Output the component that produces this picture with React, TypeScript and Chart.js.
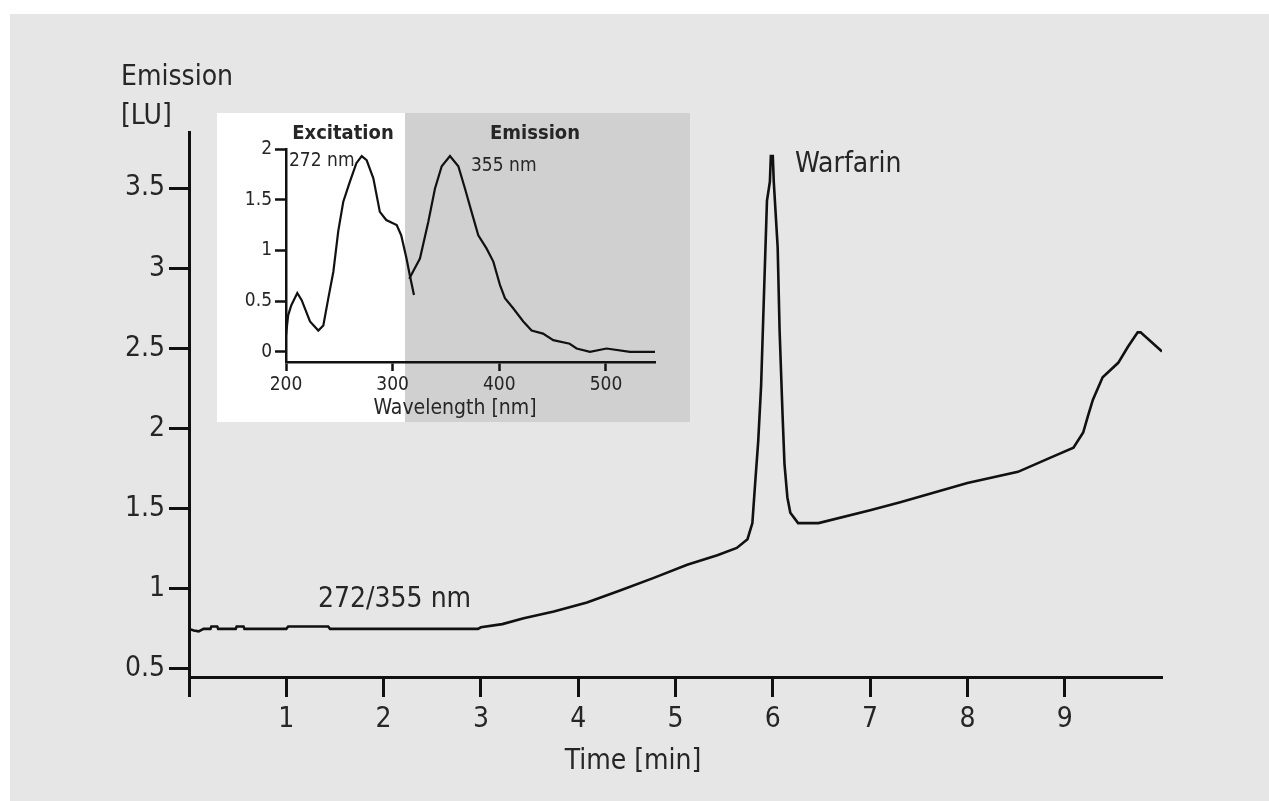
import React, { useEffect, useRef } from "react";
import { Chart, registerables } from "chart.js";

Chart.register(...registerables);

// ---------- main chromatogram data ----------
const timeMin = [
  0.0, 0.05, 0.1, 0.15, 0.22, 0.23, 0.29, 0.3, 0.48, 0.49, 0.56, 0.57, 1.0, 1.02, 1.43, 1.45,
  2.97, 3.0, 3.22, 3.44, 3.75, 4.09, 4.43, 4.77, 5.12, 5.43, 5.63, 5.74, 5.79, 5.82, 5.85, 5.88,
  5.91, 5.94, 5.97, 5.98, 6.0, 6.01, 6.05, 6.07, 6.1, 6.12, 6.15, 6.18, 6.26, 6.47, 7.0, 7.31,
  8.0, 8.52, 8.86, 9.09, 9.19, 9.24, 9.29, 9.39, 9.55, 9.65, 9.75, 9.78, 10.0,
];
const emissionLU = [
  0.75, 0.74, 0.735, 0.75, 0.75, 0.765, 0.765, 0.75, 0.75, 0.765, 0.765, 0.75, 0.75, 0.765, 0.765, 0.75,
  0.75, 0.76, 0.78, 0.817, 0.858, 0.915, 0.99, 1.067, 1.15, 1.21, 1.255, 1.31, 1.41, 1.67, 1.92, 2.27,
  2.85, 3.42, 3.54, 3.7, 3.7, 3.54, 3.13, 2.61, 2.09, 1.78, 1.57, 1.475, 1.41, 1.41, 1.49, 1.54,
  1.66, 1.73, 1.82, 1.88, 1.975, 2.08, 2.18, 2.32, 2.41, 2.51, 2.6, 2.6, 2.48,
];
const xTickValues = [0, 1, 2, 3, 4, 5, 6, 7, 8, 9];
const xTickLabels = ["", "1", "2", "3", "4", "5", "6", "7", "8", "9"];
const yTickValues = [0.5, 1, 1.5, 2, 2.5, 3, 3.5];
const yTickLabels = ["0.5", "1", "1.5", "2", "2.5", "3", "3.5"];

// ---------- inset spectra data ----------
const excWavelength = [
  200, 202, 205, 210.6, 214.7, 222.5, 230.3, 235, 239.7, 244.4, 249, 253.7, 260, 266, 271, 275.6,
  281.9, 288, 294, 303.8, 308, 313, 316, 320,
];
const excIntensity = [
  0.165, 0.36, 0.46, 0.58, 0.51, 0.3, 0.21, 0.26, 0.53, 0.79, 1.19, 1.48, 1.68, 1.86, 1.93, 1.89,
  1.71, 1.38, 1.3, 1.25, 1.15, 0.92, 0.76, 0.56,
];
const emWavelength = [
  315.6, 320, 325.6, 333.4, 339.7, 346, 353.75, 361.6, 367.8, 374, 380.3, 388, 394.4, 400.6, 405.3,
  413, 422.5, 430.3, 441, 450.6, 466, 472.5, 485, 500.6, 522.5, 546,
];
const emIntensity = [
  0.72, 0.81, 0.92, 1.28, 1.61, 1.83, 1.93, 1.83, 1.61, 1.38, 1.15, 1.02, 0.89, 0.66, 0.53,
  0.43, 0.3, 0.21, 0.18, 0.115, 0.08, 0.033, 0, 0.033, 0, 0,
];
const insetXTicks = [200, 300, 400, 500];
const insetXLabels = ["200", "300", "400", "500"];
const insetYTicks = [0, 0.5, 1, 1.5, 2];
const insetYLabels = ["0", "0.5", "1", "1.5", "2"];
const splitNm = 312;

const FONT = "'Liberation Sans Narrow', 'DejaVu Sans Condensed', 'Arial Narrow', sans-serif";
const INK = "#111";
const TEXT = "#262626";

function Label(props: {
  x: number;
  y: number;
  text: string;
  size: number;
  center?: boolean;
  bold?: boolean;
}) {
  const { x, y, text, size, center, bold } = props;
  return (
    <div
      style={{
        position: "absolute",
        left: x,
        top: y,
        transform: `translate(${center ? "-50%" : "0"}, -50%)`,
        fontFamily: FONT,
        fontSize: size,
        fontWeight: bold ? "bold" : "normal",
        lineHeight: 1,
        whiteSpace: "nowrap",
        color: TEXT,
      }}
    >
      {text}
    </div>
  );
}

export default function App() {
  const mainRef = useRef<HTMLCanvasElement>(null);
  const insetRef = useRef<HTMLCanvasElement>(null);

  useEffect(() => {
    const mainChart = new Chart(mainRef.current as HTMLCanvasElement, {
      type: "line",
      data: {
        datasets: [
          {
            data: timeMin.map((t, i) => ({ x: t, y: emissionLU[i] })),
            borderColor: INK,
            borderWidth: 2.6,
            pointRadius: 0,
            tension: 0,
            fill: false,
          },
        ],
      },
      options: {
        responsive: false,
        animation: false,
        devicePixelRatio: 1,
        layout: { padding: { top: 132, right: 107, bottom: 24, left: 0 } },
        plugins: { legend: { display: false }, tooltip: { enabled: false } },
        scales: {
          x: {
            type: "linear",
            min: 0,
            max: 10,
            afterFit: (s: any) => {
              s.height = 100;
            },
            afterBuildTicks: (s: any) => {
              s.ticks = xTickValues.map((v) => ({ value: v }));
            },
            ticks: {
              autoSkip: false,
              maxRotation: 0,
              padding: 6,
              color: TEXT,
              font: { family: FONT, size: 28 },
              callback: (v: any) => xTickLabels[xTickValues.indexOf(Number(v))] ?? "",
            },
            grid: {
              drawOnChartArea: false,
              drawTicks: true,
              tickLength: 20,
              tickWidth: 3,
              tickColor: INK,
            },
            border: { display: true, width: 3, color: INK },
          },
          y: {
            type: "linear",
            min: 0.45,
            max: 3.85,
            afterFit: (s: any) => {
              s.width = 189;
            },
            afterBuildTicks: (s: any) => {
              s.ticks = yTickValues.map((v) => ({ value: v }));
            },
            ticks: {
              autoSkip: false,
              padding: 4,
              color: TEXT,
              font: { family: FONT, size: 28 },
              callback: (v: any) => yTickLabels[yTickValues.indexOf(Number(v))] ?? "",
            },
            grid: {
              drawOnChartArea: false,
              drawTicks: true,
              tickLength: 20,
              tickWidth: 3,
              tickColor: INK,
            },
            border: { display: true, width: 3, color: INK },
          },
        },
      },
    });

    const insetBg = {
      id: "insetBg",
      beforeDraw: (chart: any) => {
        const { ctx, width, height } = chart;
        const xs = chart.scales.x;
        const split = Math.round(xs.getPixelForValue(splitNm));
        ctx.save();
        ctx.fillStyle = "#ffffff";
        ctx.fillRect(0, 0, split, height);
        ctx.fillStyle = "#d0d0d0";
        ctx.fillRect(split, 0, width - split, height);
        ctx.restore();
      },
    };

    const insetChart = new Chart(insetRef.current as HTMLCanvasElement, {
      type: "line",
      data: {
        datasets: [
          {
            data: excWavelength.map((w, i) => ({ x: w, y: excIntensity[i] })),
            borderColor: INK,
            borderWidth: 2.2,
            pointRadius: 0,
            tension: 0,
            fill: false,
          },
          {
            data: emWavelength.map((w, i) => ({ x: w, y: emIntensity[i] })),
            borderColor: INK,
            borderWidth: 2.2,
            pointRadius: 0,
            tension: 0,
            fill: false,
          },
        ],
      },
      options: {
        responsive: false,
        animation: false,
        devicePixelRatio: 1,
        layout: { padding: { top: 36, right: 35, bottom: 25, left: 0 } },
        plugins: { legend: { display: false }, tooltip: { enabled: false } },
        scales: {
          x: {
            type: "linear",
            min: 200,
            max: 546,
            afterFit: (s: any) => {
              s.height = 35;
            },
            afterBuildTicks: (s: any) => {
              s.ticks = insetXTicks.map((v) => ({ value: v }));
            },
            ticks: {
              autoSkip: false,
              maxRotation: 0,
              padding: 3,
              color: TEXT,
              font: { family: FONT, size: 19 },
              callback: (v: any) => insetXLabels[insetXTicks.indexOf(Number(v))] ?? "",
            },
            grid: {
              drawOnChartArea: false,
              drawTicks: true,
              tickLength: 9,
              tickWidth: 2.5,
              tickColor: INK,
            },
            border: { display: true, width: 2.5, color: INK },
          },
          y: {
            type: "linear",
            min: -0.1,
            max: 2,
            afterFit: (s: any) => {
              s.width = 69;
            },
            afterBuildTicks: (s: any) => {
              s.ticks = insetYTicks.map((v) => ({ value: v }));
            },
            ticks: {
              autoSkip: false,
              padding: 3,
              color: TEXT,
              font: { family: FONT, size: 19 },
              callback: (v: any) => insetYLabels[insetYTicks.indexOf(Number(v))] ?? "",
            },
            grid: {
              drawOnChartArea: false,
              drawTicks: true,
              tickLength: 11,
              tickWidth: 2.5,
              tickColor: INK,
            },
            border: { display: true, width: 2.5, color: INK },
          },
        },
      },
      plugins: [insetBg],
    });

    return () => {
      mainChart.destroy();
      insetChart.destroy();
    };
  }, []);

  return (
    <div
      style={{
        position: "fixed",
        left: 0,
        top: 0,
        width: 1269,
        height: 801,
        background: "#ffffff",
        overflow: "hidden",
      }}
    >
      <div
        style={{
          position: "absolute",
          left: 10,
          top: 14,
          width: 1259,
          height: 787,
          background: "#e6e6e6",
        }}
      />
      <canvas
        ref={mainRef}
        width={1269}
        height={801}
        style={{ position: "absolute", left: 0, top: 0, width: 1269, height: 801 }}
      />
      <canvas
        ref={insetRef}
        width={473}
        height={309}
        style={{ position: "absolute", left: 217, top: 113, width: 473, height: 309 }}
      />
      <Label x={121} y={76} text="Emission" size={28} />
      <Label x={121} y={115} text="[LU]" size={28} />
      <Label x={633} y={760} text="Time [min]" size={28} center />
      <Label x={795} y={163} text="Warfarin" size={28} />
      <Label x={318} y={598} text="272/355 nm" size={28} />
      <Label x={343} y={132} text="Excitation" size={20} bold center />
      <Label x={535} y={132} text="Emission" size={20} bold center />
      <Label x={289} y={159} text="272 nm" size={19} />
      <Label x={471} y={164} text="355 nm" size={19} />
      <Label x={455} y={407} text="Wavelength [nm]" size={21} center />
    </div>
  );
}
